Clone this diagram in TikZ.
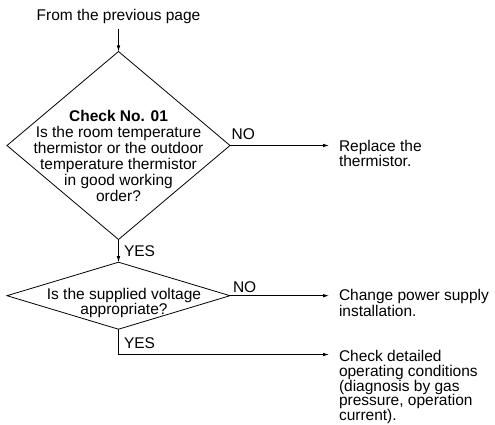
\documentclass[tikz,border=0pt]{standalone}
\usepackage{fontspec}
\setmainfont{Liberation Sans}
\usetikzlibrary{shapes.geometric,arrows.meta}

% multi-line texts are placed by the baseline of their last line
\tikzset{
  txt/.style={inner sep=0pt, outer sep=0pt, font=\fontsize{15.5}{15.3}\selectfont},
  qtxt/.style={txt, align=center, font=\fontsize{15.5}{16}\selectfont},
  atxt/.style={txt, align=left, anchor=base west},
  lbl/.style={txt, anchor=base west},
  decision/.style={draw, shape=diamond, inner sep=0pt, outer sep=0pt, line width=0.8pt},
  arr/.style={draw, line width=0.8pt, -{Latex[length=6pt,width=3.6pt]}},
}

\begin{document}
\begin{tikzpicture}[x=1pt, y=-1pt]
  \useasboundingbox (0,0) rectangle (495,425);

  % entry from the previous page
  \node[txt, anchor=base] (from) at (118.5,21) {From the previous page};

  % first check: thermistors
  \node[decision, minimum width=223pt, minimum height=188pt] (d1) at (118.5,145.5) {};
  \node[qtxt, anchor=base] (q1) at (118.5,201)
    {\textbf{Check No. 01}\\Is the room temperature\\thermistor or the outdoor\\temperature thermistor\\in good working\\order?};

  % second check: supply voltage
  \node[decision, minimum width=223pt, minimum height=67pt] (d2) at (118.5,295.7) {};
  \node[qtxt, anchor=base, font=\fontsize{15.5}{15}\selectfont] (q2) at (124,314.3)
    {Is the supplied voltage\\appropriate?};

  % actions
  \node[atxt] (a1) at (339,166.3) {Replace the\\thermistor.};
  \node[atxt] (a2) at (339,316.1) {Change power supply\\installation.};
  \node[atxt, font=\fontsize{15.5}{14.7}\selectfont] (a3) at (339,420.5)
    {Check detailed\\operating conditions\\(diagnosis by gas\\pressure, operation\\current).};

  % arrow ends in front of the actions
  \coordinate (t1) at (329,145.5);
  \coordinate (t2) at (329,295.7);
  \coordinate (t3) at (329,354.5);

  % branch labels
  \node[lbl] (no1) at (231.7,139.3) {NO};
  \node[lbl] (yes1) at (124,256.7) {YES};
  \node[lbl] (no2) at (233,292.3) {NO};
  \node[lbl] (yes2) at (124,348.3) {YES};

  % connectors
  \draw[arr, shorten <=4.5pt] (from.south) -- (d1.north);
  \draw[arr] (d1.south) -- (d2.north);
  \draw[arr] (d1.east) -- (t1);
  \draw[arr] (d2.east) -- (t2);
  \draw[arr] (d2.south) |- (t3);
\end{tikzpicture}
\end{document}
